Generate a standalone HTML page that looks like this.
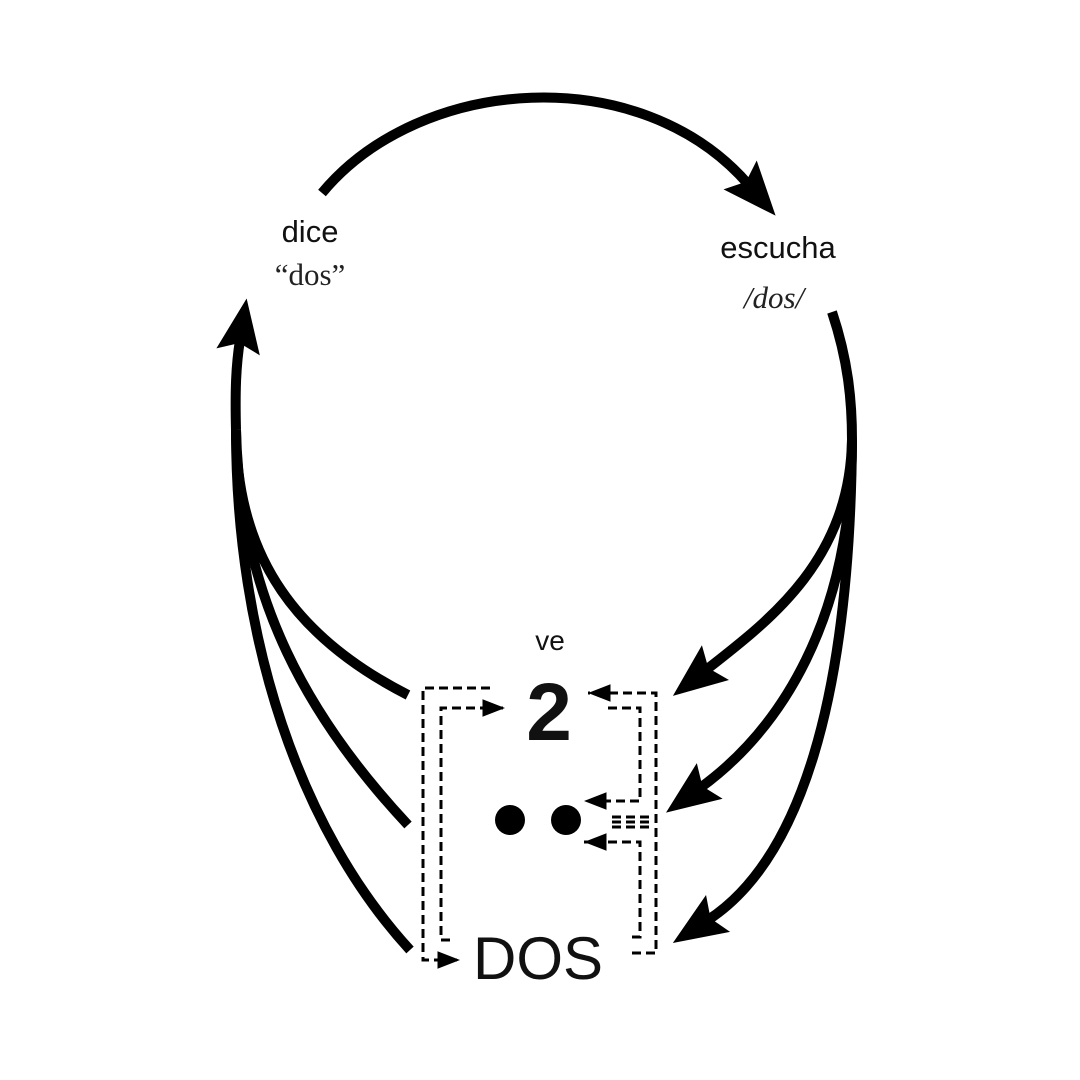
<!DOCTYPE html>
<html><head><meta charset="utf-8"><style>
html,body{margin:0;padding:0;background:#fff;width:1080px;height:1080px;overflow:hidden}
svg{display:block}
.s{font-family:"Liberation Sans",sans-serif;fill:#111}
.r{font-family:"Liberation Serif",serif;fill:#222}
</style></head><body>
<svg width="1080" height="1080" viewBox="0 0 1080 1080">
<defs>
<marker id="big" markerUnits="userSpaceOnUse" markerWidth="100" markerHeight="100" viewBox="-50 -50 100 100" refX="0" refY="0" orient="auto">
<path d="M42,0 L-12,-22 L-3,0 L-12,22 Z" fill="#000"/>
</marker>
<marker id="sm" markerUnits="userSpaceOnUse" markerWidth="30" markerHeight="30" viewBox="-20 -10 24 20" refX="0" refY="0" orient="auto">
<path d="M0,0 L-18,-7 L-18,7 Z" fill="#000"/>
</marker>
</defs>
<g fill="none" stroke="#000" stroke-width="10" stroke-linecap="butt">
<path d="M322,193 C420,75 640,60 748,184" marker-end="url(#big)"/>
<path d="M408,695 C300,640 236,560 236,430"/>
<path d="M408,825 C310,720 240,600 236,430"/>
<path d="M410,950 C300,830 236,640 236,430"/>
<path d="M236,430 C235,390 236,365 240,340" marker-end="url(#big)"/>
<path d="M832,312 C848,360 852,400 852,440"/>
<path d="M852,440 C850,560 770,620 706,670" marker-end="url(#big)"/>
<path d="M852,440 C852,620 780,730 700,788" marker-end="url(#big)"/>
<path d="M852,440 C850,700 800,860 708,920" marker-end="url(#big)"/>
</g>
<g fill="none" stroke="#000" stroke-width="3" stroke-dasharray="9,5">
<path d="M490,688 L423,688 L423,960 L460,960" marker-end="url(#sm)"/>
<path d="M450,940 L441,940 L441,708 L505,708" marker-end="url(#sm)"/>
<path d="M632,953 L656,953 L656,693 L588,693" marker-end="url(#sm)"/>
<path d="M608,708 L640,708 L640,801 L584,801" marker-end="url(#sm)"/>
<path d="M632,937 L640,937 L640,842 L584,842" marker-end="url(#sm)"/>
<path d="M612,817 L652,817 M612,822 L652,822 M612,827 L652,827"/>
</g>
<circle cx="510" cy="820" r="15" fill="#000"/>
<circle cx="566" cy="820" r="15" fill="#000"/>
<text class="s" x="310" y="242" font-size="31" text-anchor="middle">dice</text>
<text class="r" x="310" y="285" font-size="31" text-anchor="middle">“dos”</text>
<text class="s" x="778" y="258" font-size="31" text-anchor="middle">escucha</text>
<text class="r" x="774" y="308" font-size="31" font-style="italic" text-anchor="middle">/dos/</text>
<text class="s" x="550" y="650" font-size="28" text-anchor="middle">ve</text>
<text class="s" x="549" y="740" font-size="82" font-weight="bold" text-anchor="middle">2</text>
<text class="s" x="538" y="979" font-size="60" text-anchor="middle">DOS</text>
</svg>
</body></html>
